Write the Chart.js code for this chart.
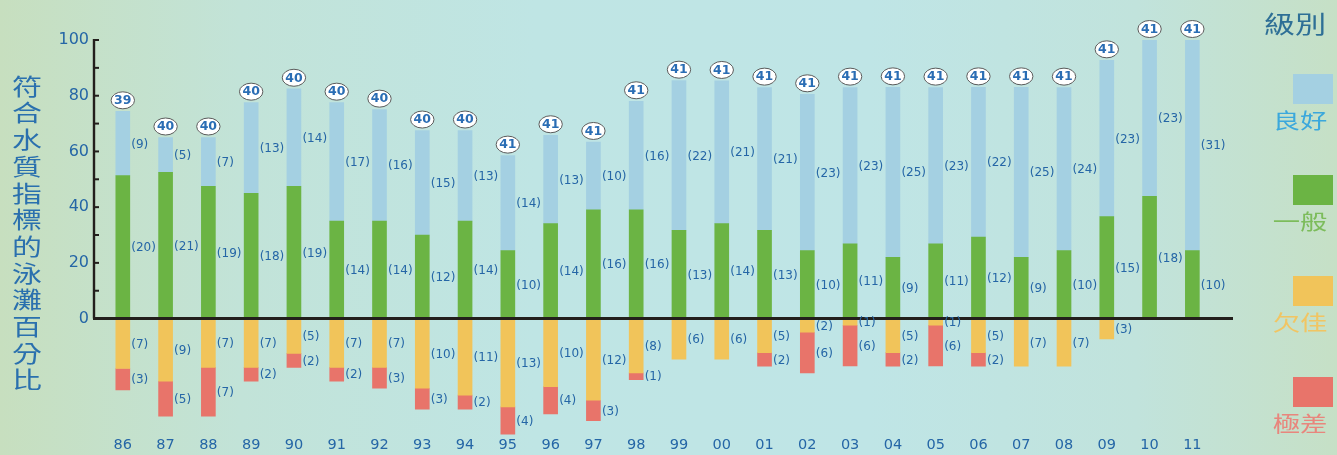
<!DOCTYPE html>
<html>
<head>
<meta charset="utf-8">
<script src="https://cdn.jsdelivr.net/npm/chart.js@4.4.1/dist/chart.umd.min.js"></script>
<style>
    html, body { margin: 0; padding: 0; }
    body {
        width: 1337px;
        height: 455px;
        overflow: hidden;
        background: linear-gradient(to right, #c7dfbf 0%, #c2e3d8 18%, #bfe5e4 40%, #bfe5e6 65%, #c1e3dc 85%, #c6e0c6 100%);
    }
    #wrap { position: relative; width: 1337px; height: 455px; }
</style>
</head>
<body>
<div id="wrap"><canvas id="beach-chart"></canvas></div>
<script>
    // years (民國 86 - 100 年, then 2000 - 2011 style labels as in the source)
    var years = ['86', '87', '88', '89', '90', '91', '92', '93', '94', '95', '96', '97', '98',
                 '99', '00', '01', '02', '03', '04', '05', '06', '07', '08', '09', '10', '11'];
    var totalBeaches = [39, 40, 40, 40, 40, 40, 40, 40, 40, 41, 41, 41, 41,
                        41, 41, 41, 41, 41, 41, 41, 41, 41, 41, 41, 41, 41];

    // number of beaches in each grade
    var goodCount = [9, 5, 7, 13, 14, 17, 16, 15, 13, 14, 13, 10, 16,
                     22, 21, 21, 23, 23, 25, 23, 22, 25, 24, 23, 23, 31];
    var fairCount = [20, 21, 19, 18, 19, 14, 14, 12, 14, 10, 14, 16, 16,
                     13, 14, 13, 10, 11, 9, 11, 12, 9, 10, 15, 18, 10];
    var poorCount = [7, 9, 7, 7, 5, 7, 7, 10, 11, 13, 10, 12, 8,
                     6, 6, 5, 2, 1, 5, 1, 5, 7, 7, 3, null, null];
    var veryPoorCount = [3, 5, 7, 2, 2, 2, 3, 3, 2, 4, 4, 3, 1,
                         null, null, 2, 6, 6, 2, 6, 2, null, null, null, null, null];

    // bar heights (% of beaches)
    var goodPct = [23.1, 12.5, 17.5, 32.5, 35, 42.5, 40, 37.5, 32.5, 34.1, 31.7, 24.4, 39.0,
                   53.7, 51.2, 51.2, 56.1, 56.1, 61.0, 56.1, 53.7, 61.0, 58.5, 56.1, 56.1, 75.6];
    var fairPct = [51.3, 52.5, 47.5, 45, 47.5, 35, 35, 30, 35, 24.4, 34.1, 39.0, 39.0,
                   31.7, 34.1, 31.7, 24.4, 26.8, 22.0, 26.8, 29.3, 22.0, 24.4, 36.6, 43.9, 24.4];
    var poorPct = [-17.9, -22.5, -17.5, -17.5, -12.5, -17.5, -17.5, -25, -27.5, -31.7, -24.4, -29.3, -19.5,
                   -14.6, -14.6, -12.2, -4.9, -2.4, -12.2, -2.4, -12.2, -17.1, -17.1, -7.3, null, null];
    var veryPoorPct = [-7.7, -12.5, -17.5, -5, -5, -5, -7.5, -7.5, -5, -9.8, -9.8, -7.3, -2.4,
                       null, null, -4.9, -14.6, -14.6, -4.9, -14.6, -4.9, null, null, null, null, null];

    var yTicks = [0, 20, 40, 60, 80, 100];

    var BLUE_TXT = '#2566a6';

    function points(values) {
        return values.map(function (v, i) { return { x: i, y: v }; });
    }

    function stretchText(ctx, text, x, y, sx) {
        ctx.save();
        ctx.translate(x, y);
        ctx.scale(sx, 1);
        ctx.fillText(text, 0, 0);
        ctx.restore();
    }

    // axis line, ticks, zero line, value labels and circled totals
    var overlayPlugin = {
        id: 'overlay',
        afterDatasetsDraw: function (chart) {
            var ctx = chart.ctx;
            var area = chart.chartArea;
            var y = chart.scales.y;
            var y0 = y.getPixelForValue(0);
            ctx.save();

            // vertical axis (0..100 only) with inward ticks
            ctx.strokeStyle = '#231f1c';
            ctx.lineWidth = 2.4;
            ctx.beginPath();
            ctx.moveTo(area.left - 1, y.getPixelForValue(100) - 1);
            ctx.lineTo(area.left - 1, y0);
            ctx.stroke();
            ctx.lineWidth = 2;
            for (var t = 10; t <= 100; t += 10) {
                var ty = y.getPixelForValue(t);
                ctx.beginPath();
                ctx.moveTo(area.left - 2, ty);
                ctx.lineTo(area.left + 4, ty);
                ctx.stroke();
            }

            // zero line
            ctx.lineWidth = 3;
            ctx.beginPath();
            ctx.moveTo(area.left - 2, y0);
            ctx.lineTo(area.right, y0);
            ctx.stroke();

            // (n) labels to the right of every segment
            var counts = [fairCount, goodCount, poorCount, veryPoorCount];
            ctx.font = '12px "DejaVu Sans"';
            ctx.fillStyle = BLUE_TXT;
            ctx.textAlign = 'left';
            ctx.textBaseline = 'middle';
            chart.data.datasets.forEach(function (ds, di) {
                chart.getDatasetMeta(di).data.forEach(function (bar, i) {
                    if (counts[di][i] == null) return;
                    var p = bar.getProps(['x', 'y', 'base', 'width'], true);
                    ctx.fillText('(' + counts[di][i] + ')', p.x + p.width / 2 + 1.5, (p.y + p.base) / 2 + 1);
                });
            });

            // circled totals above the top (good) segment
            var topBars = chart.getDatasetMeta(1).data;
            ctx.textAlign = 'center';
            topBars.forEach(function (bar, i) {
                var p = bar.getProps(['x', 'y'], true);
                var cy = p.y - 11;
                ctx.beginPath();
                ctx.ellipse(p.x, cy, 11.7, 8.5, 0, 0, Math.PI * 2);
                ctx.fillStyle = '#ffffff';
                ctx.fill();
                ctx.lineWidth = 1;
                ctx.strokeStyle = '#5a5a5a';
                ctx.stroke();
                ctx.fillStyle = '#2a6db4';
                ctx.font = 'bold 12.5px "DejaVu Sans"';
                ctx.fillText(String(totalBeaches[i]), p.x, cy + 0.5);
            });

            ctx.restore();
        }
    };

    // vertical y title and the legend on the right
    var sidePlugin = {
        id: 'side',
        afterDraw: function (chart) {
            var ctx = chart.ctx;
            ctx.save();
            ctx.textAlign = 'center';
            ctx.textBaseline = 'middle';

            var title = '符合水質指標的泳灘百分比';
            ctx.fillStyle = '#2a70ae';
            ctx.font = '23px "Noto Sans CJK TC"';
            for (var k = 0; k < title.length; k++) {
                stretchText(ctx, title.charAt(k), 27, 86 + k * 26.7, 1.3);
            }

            ctx.fillStyle = '#2e6f96';
            ctx.font = '24px "Noto Sans CJK TC"';
            stretchText(ctx, '級別', 1295, 24, 1.3);

            var order = [1, 0, 2, 3];
            var textColors = ['#7cbc5b', '#3ba8dc', '#f1c563', '#e8867d'];
            order.forEach(function (di, n) {
                var ds = chart.data.datasets[di];
                var top = 74 + n * 101;
                ctx.fillStyle = ds.backgroundColor;
                ctx.fillRect(1293, top, 40, 30);
                ctx.fillStyle = textColors[di];
                ctx.font = '21px "Noto Sans CJK TC"';
                stretchText(ctx, ds.label, 1300, top + 46, 1.3);
            });
            ctx.restore();
        }
    };

    var ctx = document.getElementById('beach-chart').getContext('2d');
    new Chart(ctx, {
        type: 'bar',
        data: {
            datasets: [{
                label: '一般',
                data: points(fairPct),
                backgroundColor: '#6bb444'
            }, {
                label: '良好',
                data: points(goodPct),
                backgroundColor: '#a4d0e2'
            }, {
                label: '欠佳',
                data: points(poorPct),
                backgroundColor: '#f1c45a'
            }, {
                label: '極差',
                data: points(veryPoorPct),
                backgroundColor: '#e8746a'
            }]
        },
        options: {
            responsive: true,
            maintainAspectRatio: false,
            animation: false,
            barThickness: 14,
            layout: {
                padding: { left: 0, top: 40, right: 104, bottom: 0 }
            },
            plugins: {
                legend: { display: false },
                tooltip: { enabled: false }
            },
            scales: {
                x: {
                    type: 'linear',
                    offset: false,
                    stacked: true,
                    min: -0.65,
                    max: 25.95,
                    grid: { display: false, drawTicks: false, offset: false },
                    border: { display: false },
                    afterBuildTicks: function (scale) {
                        scale.ticks = years.map(function (y, i) { return { value: i }; });
                    },
                    ticks: {
                        autoSkip: false,
                        maxRotation: 0,
                        padding: 1,
                        color: BLUE_TXT,
                        font: { family: 'DejaVu Sans', size: 14.5 },
                        callback: function (value, index) { return years[index]; }
                    }
                },
                y: {
                    stacked: true,
                    min: -42,
                    max: 100,
                    grid: { display: false, drawTicks: false },
                    border: { display: false },
                    afterFit: function (scale) { scale.width = 95; },
                    afterBuildTicks: function (scale) {
                        scale.ticks = yTicks.map(function (v) { return { value: v }; });
                    },
                    ticks: {
                        padding: 6,
                        color: BLUE_TXT,
                        font: { family: 'DejaVu Sans', size: 16 }
                    }
                }
            }
        },
        plugins: [overlayPlugin, sidePlugin]
    });
</script>
</body>
</html>
